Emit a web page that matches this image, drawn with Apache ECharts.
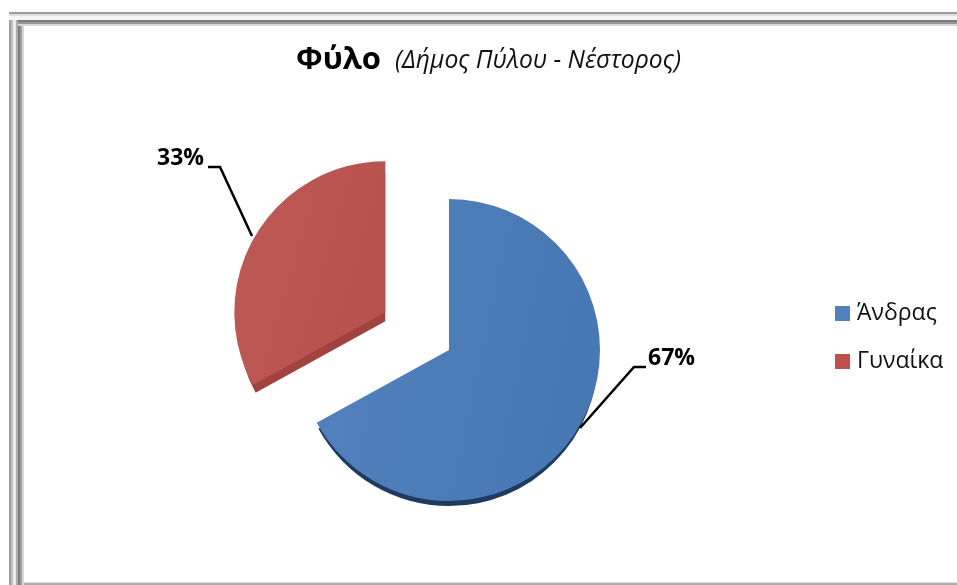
<!DOCTYPE html>
<html>
<head>
<meta charset="utf-8">
<style>html,body{margin:0;padding:0;background:#fff}#c{width:957px;height:585px}</style>
<script src="https://cdn.jsdelivr.net/npm/echarts@6/dist/echarts.min.js"></script>
</head>
<body>
<div id="c"></div>
<script>
const categories = ['Άνδρας', 'Γυναίκα'];
const values = [67, 33];
const percentLabels = ['67%', '33%'];
const titleMain = 'Φύλο';
const titleSub = '(Δήμος Πύλου - Νέστορος)';
const FONT = '"Open Sans","Noto Sans","DejaVu Sans",sans-serif';

const chart = echarts.init(document.getElementById('c'), null, {renderer: 'canvas'});

// Frame bands: [offset, size, colour]
const leftBands = [[9,2,'#a0a0a0'],[11,2,'#c0c0c0'],[13,3,'#ececec'],[16,2,'#aeaeae'],[18,2,'#7c7c7c'],[20,2,'#a0a0a0'],[22,2,'#d8d8d8']];
const topBands = [[12,2,'#9c9c9c'],[14,2,'#dedede'],[16,4,'#f4f4f4'],[20,2,'#7c7c7c'],[22,2,'#989898'],[24,2,'#d8d8d8']];
const bottomBands = [[582,1,'#dddddd'],[583,2,'#ababab']];
const frame = [];
bottomBands.forEach(b => frame.push({type:'rect',shape:{x:9,y:b[0],width:948,height:b[1]},style:{fill:b[2]},silent:true}));
leftBands.forEach(b => frame.push({type:'rect',shape:{x:b[0],y:Math.max(12,b[0]+3),width:b[1],height:b[0] < 16 ? 573 : 565},style:{fill:b[2]},silent:true}));
topBands.forEach(b => frame.push({type:'rect',shape:{x:b[0]<20?9:18,y:b[0],width:950,height:b[1]},style:{fill:b[2]},silent:true}));

const R = 151, CX = 449, CY = 350, EXPLODE = 74;
const grad = (a,b) => new echarts.graphic.LinearGradient(0,0,1,0.2,[{offset:0,color:a},{offset:1,color:b}]);
const faceColors = [grad('#5382bd','#4878b3'), grad('#be5a55','#b8524e')];
const depthColors = ['#1f3b60','#a0433f'];

function depthSeries(idx, shift, shrink){
  return {
    type:'pie', silent:true, animation:false, z:1, radius:[0,R-shrink], center:[CX,CY+shift],
    startAngle:90, clockwise:true, selectedMode:'single', selectedOffset:EXPLODE,
    label:{show:false}, labelLine:{show:false}, emphasis:{disabled:true},
    data: categories.map((n,i)=>({
      name:n+' ', value:values[i], selected:i===1,
      itemStyle:{color:i===idx?depthColors[i]:'rgba(0,0,0,0)'}
    }))
  };
}

const labelSpots = [
  {x:648,y:358,line:[[580,428],[634,367],[646,367]]},
  {x:157,y:158,line:[[252,236],[220,167],[208,167]]}
];

chart.setOption({
  animation:false,
  backgroundColor:'#fff',
  graphic:frame,
  title:{
    text:'{a|'+titleMain+'}{g| }{b|'+titleSub+'}',
    left:291, top:40,
    textStyle:{rich:{
      a:{fontFamily:FONT,fontWeight:'bold',fontSize:31,color:'#000'},
      g:{fontSize:14,width:14},
      b:{fontFamily:FONT,fontStyle:'italic',fontWeight:'normal',fontSize:24.7,color:'#111'}
    }}
  },
  legend:{
    orient:'vertical', left:830, top:297, itemWidth:15, itemHeight:15, itemGap:25,
    icon:'rect', selectedMode:false,
    textStyle:{fontFamily:FONT,fontSize:23,color:'#111',padding:[0,0,0,2]},
    data:categories.map((n,i)=>({name:n,itemStyle:{color:['#4f81bd','#c0504d'][i]}}))
  },
  series:[
    depthSeries(0,7,2),
    depthSeries(1,9,3),
    {
      type:'pie', animation:false, z:3, radius:[0,R], center:[CX,CY],
      startAngle:90, clockwise:true, selectedMode:'single', selectedOffset:EXPLODE,
      emphasis:{disabled:true}, label:{show:false}, labelLine:{show:false},
      data:categories.map((n,i)=>({
        name:n, value:values[i], selected:i===1,
        itemStyle:{color:faceColors[i]}
      }))
    },
    {
      type:'pie', animation:false, silent:true, z:4, radius:[0,R], center:[CX,CY],
      startAngle:90, clockwise:true, selectedMode:false, emphasis:{disabled:true},
      itemStyle:{color:'rgba(0,0,0,0)'},
      label:{
        show:true, position:'outside',
        formatter:p=>percentLabels[p.dataIndex],
        fontFamily:FONT, fontWeight:'bold', fontSize:23, color:'#000'
      },
      labelLine:{show:true, lineStyle:{color:'#000',width:2.5}, smooth:false},
      labelLayout:p=>{
        const s = labelSpots[p.dataIndex];
        return {x:s.x, y:s.y, align:'left', verticalAlign:'middle', labelLinePoints:s.line};
      },
      data:categories.map((n,i)=>({name:n+'  ', value:values[i]}))
    }
  ]
});
</script>
</body>
</html>
